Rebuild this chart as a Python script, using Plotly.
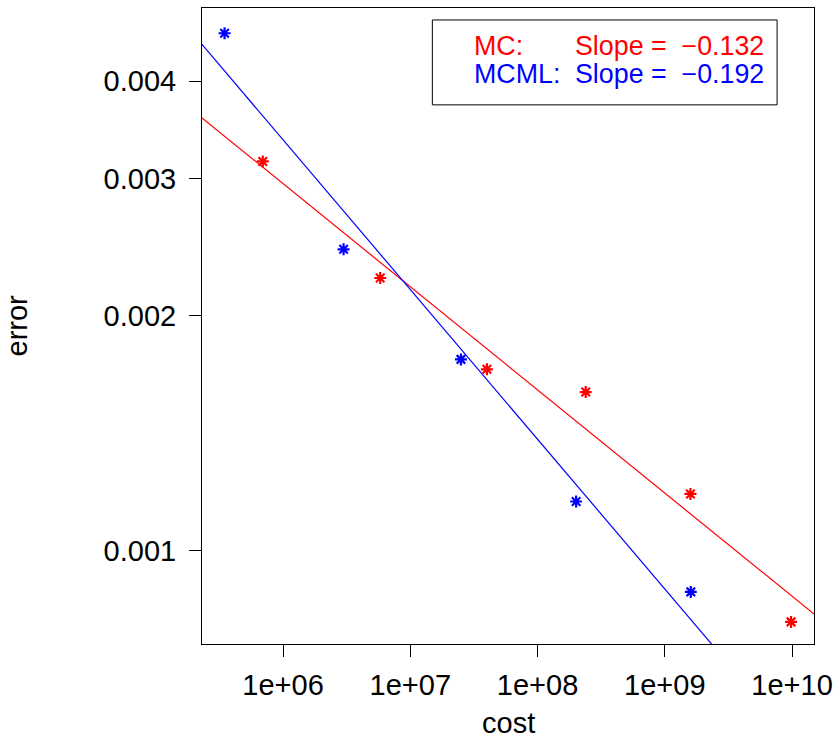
import numpy as np
import plotly.graph_objects as go

# ---- data ----
mc_cost = [6.93e5, 5.80e6, 4.00e7, 2.39e8, 1.59e9, 9.82e9]
mc_error = [0.003157, 0.002237, 0.001708, 0.001597, 0.001182, 0.000810]
mcml_cost = [3.47e5, 2.99e6, 2.50e7, 2.01e8, 1.60e9]
mcml_error = [0.004610, 0.002435, 0.001759, 0.001156, 0.000885]

x_tick_vals = [1e6, 1e7, 1e8, 1e9, 1e10]
x_tick_text = ["1e+06", "1e+07", "1e+08", "1e+09", "1e+10"]
y_tick_vals = [0.001, 0.002, 0.003, 0.004]
y_tick_text = ["0.001", "0.002", "0.003", "0.004"]

mc_label = "MC:"
mcml_label = "MCML:"
mc_slope_text = "Slope =  \u22120.132"
mcml_slope_text = "Slope =  \u22120.192"

RED = "#FF0000"
BLUE = "#0000FF"
FONT = "Liberation Sans, Arial, Helvetica, sans-serif"

X_RANGE = [5.363, 10.1724]     # log10 units
Y_RANGE = [-3.1199, -2.3039]   # log10 units


def fit_line(cost, err):
    lx = np.log10(np.asarray(cost))
    ly = np.log10(np.asarray(err))
    b, a = np.polyfit(lx, ly, 1)
    xs = np.array([X_RANGE[0] - 1.0, X_RANGE[1] + 1.0])
    return 10 ** xs, 10 ** (a + b * xs)


fig = go.Figure()

for cost, err, col in [(mc_cost, mc_error, RED), (mcml_cost, mcml_error, BLUE)]:
    lx, ly = fit_line(cost, err)
    fig.add_trace(go.Scatter(x=lx, y=ly, mode="lines",
                             line=dict(color=col, width=1.2),
                             showlegend=False, hoverinfo="skip"))
    fig.add_trace(go.Scatter(x=cost, y=err, mode="markers", showlegend=False,
                             marker=dict(symbol="asterisk-open", size=10, color=col,
                                         line=dict(color=col, width=2.2))))

axis_common = dict(
    showgrid=False, zeroline=False,
    showline=True, mirror=True, linecolor="black", linewidth=1,
    ticks="outside", ticklen=12, tickwidth=1, tickcolor="black",
    tickfont=dict(family=FONT, size=29, color="black"),
)

fig.update_xaxes(type="log", range=X_RANGE, tickvals=x_tick_vals,
                 ticktext=x_tick_text, ticklabelstandoff=3, **axis_common)
fig.update_yaxes(type="log", range=Y_RANGE, tickvals=y_tick_vals,
                 ticktext=y_tick_text, ticklabelstandoff=7, **axis_common)

# legend box
fig.add_shape(type="rect", xref="paper", yref="paper",
              x0=0.3764, x1=0.9397, y0=0.8477, y1=0.9812,
              line=dict(color="black", width=1), fillcolor="white", layer="above")

legend_rows = [(mc_label, mc_slope_text, RED, 0.9395),
               (mcml_label, mcml_slope_text, BLUE, 0.8960)]
for lab, slope, col, yy in legend_rows:
    fig.add_annotation(xref="paper", yref="paper", x=0.4406, y=yy,
                       text=lab, showarrow=False, xanchor="left", yanchor="middle",
                       font=dict(family=FONT, size=26.8, color=col))
    fig.add_annotation(xref="paper", yref="paper", x=0.6055, y=yy,
                       text=slope, showarrow=False, xanchor="left", yanchor="middle",
                       font=dict(family=FONT, size=26.8, color=col))

# axis titles
fig.add_annotation(xref="paper", yref="paper", x=0.5, y=-0.1236,
                   text="cost", showarrow=False, xanchor="center", yanchor="middle",
                   font=dict(family=FONT, size=29, color="black"))
fig.add_annotation(xref="paper", yref="paper", x=-0.3031, y=0.5,
                   text="error", showarrow=False, textangle=-90,
                   xanchor="center", yanchor="middle",
                   font=dict(family=FONT, size=29, color="black"))

fig.update_layout(
    width=840, height=742, autosize=False,
    margin=dict(l=202, r=24.3, t=7.3, b=97.7, pad=0),
    paper_bgcolor="white", plot_bgcolor="white",
    showlegend=False,
)

fig.write_html("out.html", config={"displayModeBar": False},
               post_script="document.body.style.margin='0';document.body.style.padding='0';")
